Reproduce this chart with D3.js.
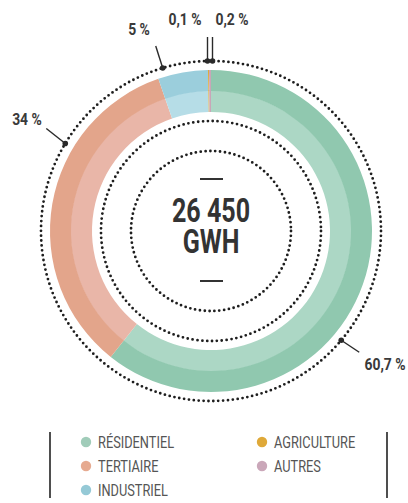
<!DOCTYPE html>
<html>
<head>
<meta charset="utf-8">
<script src="https://cdn.jsdelivr.net/npm/d3@7"></script>
<style>
  body { margin: 0; background: #fff; }
  svg { display: block; }
  text { font-family: Roboto, "DejaVu Sans", sans-serif; }
</style>
</head>
<body>
<svg></svg>
<script>
// data
const categories = ['RÉSIDENTIEL', 'TERTIAIRE', 'INDUSTRIEL', 'AGRICULTURE', 'AUTRES'];
const shares = [60.7, 34, 5, 0.1, 0.2];
const shareLabels = ['60,7 %', '34 %', '5 %', '0,1 %', '0,2 %'];
const totalValue = '26 450';
const totalUnit = 'GWH';

const outerColors = ['#90c8af', '#e3a58b', '#9bcedc', '#e0a83a', '#c9a6b8'];
const innerColors = ['#acd7c5', '#e9b6a8', '#b6dde7', '#e0a83a', '#c9a6b8'];
const legendColors = ['#a0ccb9', '#e6aa90', '#95c9d6', '#dfa939', '#caa7b9'];

const width = 408, height = 503;
const cx = 211, cy = 231;

const svg = d3.select('svg')
  .attr('width', width)
  .attr('height', height);

const g = svg.append('g')
  .attr('transform', 'translate(' + cx + ',' + cy + ')');

// condensed look: squeeze the glyphs horizontally
function label(parent, x, y, str, size, weight, anchor, sx, fill) {
  return parent.append('g')
    .attr('transform', 'translate(' + x + ',' + y + ') scale(' + sx + ',1)')
    .append('text')
    .attr('text-anchor', anchor)
    .attr('font-size', size)
    .attr('font-weight', weight)
    .attr('fill', fill)
    .text(str);
}

const pie = d3.pie().sort(null).value(d => d);
const arcs = pie(shares);

const outerBand = d3.arc().innerRadius(140).outerRadius(161);
const innerBand = d3.arc().innerRadius(119).outerRadius(140.5);

g.selectAll('path.inner')
  .data(arcs)
  .enter().append('path')
  .attr('class', 'inner')
  .attr('d', innerBand)
  .attr('fill', (d, i) => innerColors[i]);

g.selectAll('path.outer')
  .data(arcs)
  .enter().append('path')
  .attr('class', 'outer')
  .attr('d', outerBand)
  .attr('fill', (d, i) => outerColors[i]);

// dotted rings
[170, 110, 80].forEach(r => {
  const n = Math.round(2 * Math.PI * r / 4.9);
  g.append('circle')
    .attr('r', r)
    .attr('fill', 'none')
    .attr('stroke', '#1e1e1e')
    .attr('stroke-width', 2.8)
    .attr('stroke-linecap', 'round')
    .attr('stroke-dasharray', '0 ' + (2 * Math.PI * r / n));
});

// centre
label(g, 0, -9, totalValue, 33, 'bold', 'middle', 0.76, '#333');
label(g, 0, 22, totalUnit, 33, 'bold', 'middle', 0.76, '#333');
[-52, 50].forEach(y => {
  g.append('line')
    .attr('x1', -11).attr('x2', 12)
    .attr('y1', y).attr('y2', y)
    .attr('stroke', '#333').attr('stroke-width', 2);
});

// value pointers (layout only)
const pointers = [
  { angle: 130, end: [18, 12], text: [174, 139], anchor: 'middle' },
  { angle: 301, end: [-19, -15], text: [-184, -106], anchor: 'middle' },
  { angle: 343.5, end: [-7, -22], text: [-72, -196], anchor: 'middle' },
  { dx: -3.5, top: -194, text: [-26, -206], anchor: 'middle' },
  { dx: 1.5, top: -194, text: [21, -206], anchor: 'middle' }
];

pointers.forEach((p, i) => {
  let x0, y0, x1, y1;
  if (p.angle !== undefined) {
    const a = p.angle * Math.PI / 180;
    x0 = 170 * Math.sin(a);
    y0 = -170 * Math.cos(a);
    x1 = x0 + p.end[0];
    y1 = y0 + p.end[1];
  } else {
    x0 = p.dx; y0 = -170;
    x1 = p.dx; y1 = p.top;
  }
  g.append('line')
    .attr('x1', x0).attr('y1', y0)
    .attr('x2', x1).attr('y2', y1)
    .attr('stroke', '#2a2a2a').attr('stroke-width', 1.4);
  g.append('circle')
    .attr('cx', x0).attr('cy', y0).attr('r', 2.8)
    .attr('fill', '#2a2a2a');
  label(g, p.text[0], p.text[1], shareLabels[i], 17, 'bold', p.anchor, 0.82, '#3a3a3a');
});

// legend
const legend = svg.append('g');
[50, 387].forEach(x => {
  legend.append('line')
    .attr('x1', x).attr('x2', x)
    .attr('y1', 432).attr('y2', 498)
    .attr('stroke', '#222').attr('stroke-width', 1.6);
});

const legendPos = [[86, 442], [86, 466], [86, 490], [262, 442], [262, 466]];
const item = legend.selectAll('g.item')
  .data(categories)
  .enter().append('g')
  .attr('class', 'item')
  .attr('transform', (d, i) => 'translate(' + legendPos[i][0] + ',' + legendPos[i][1] + ')');

item.append('circle')
  .attr('r', 5.2)
  .attr('fill', (d, i) => legendColors[i]);

item.each(function (d) {
  label(d3.select(this), 12, 6, d, 16, 'normal', 'start', 0.8, '#555');
});
</script>
</body>
</html>
